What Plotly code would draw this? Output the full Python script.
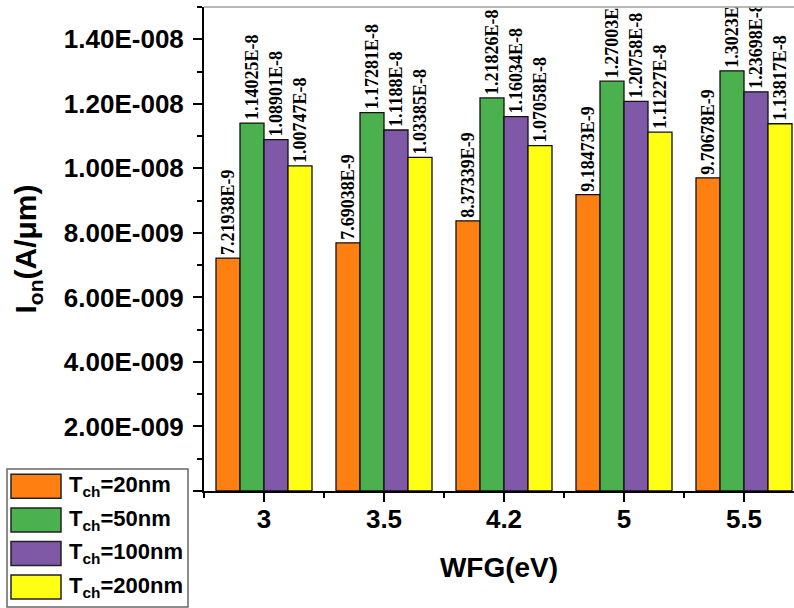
import plotly.graph_objects as go

# ---------------- data ----------------
CATEGORIES = ["3", "3.5", "4.2", "5", "5.5"]          # WFG (eV)
SERIES_NAMES = ["T<sub>ch</sub>=20nm", "T<sub>ch</sub>=50nm",
                "T<sub>ch</sub>=100nm", "T<sub>ch</sub>=200nm"]
T20 = [7.21938e-9, 7.69038e-9, 8.37339e-9, 9.18473e-9, 9.70678e-9]
T50 = [1.14025e-8, 1.17281e-8, 1.21826e-8, 1.27003e-8, 1.3023e-8]
T100 = [1.08901e-8, 1.1188e-8, 1.16034e-8, 1.20758e-8, 1.23698e-8]
T200 = [1.00747e-8, 1.03385e-8, 1.07058e-8, 1.11227e-8, 1.13817e-8]
Y_TICK_VALS = [0, 2e-9, 4e-9, 6e-9, 8e-9, 1.0e-8, 1.2e-8, 1.4e-8]
Y_TICK_LABELS = ["", "2.00E-009", "4.00E-009", "6.00E-009", "8.00E-009",
                 "1.00E-008", "1.20E-008", "1.40E-008"]
Y_MINOR_VALS = [1e-9, 3e-9, 5e-9, 7e-9, 9e-9, 1.1e-8, 1.3e-8, 1.5e-8]

# ---------------- style ----------------
COLORS = ["#FF8010", "#4BB04E", "#8058A8", "#FFFF14"]
W, H = 794, 608
L, T, B = 204, 7, 117
PW, PH = W - L, H - T - B

SANS = "Liberation Sans"
SERIF = "Liberation Serif"


def lab(v):
    s = "%.6g" % v
    m, e = s.split("e")
    return "%sE%d" % (m, int(e))


def px(xp):
    return (xp - L) / PW


def py(yp):
    return (T + PH - yp) / PH


xpos = list(range(len(CATEGORIES)))
fig = go.Figure()
for name, vals, col in zip(SERIES_NAMES, [T20, T50, T100, T200], COLORS):
    fig.add_trace(go.Bar(
        x=xpos, y=vals, name=name, showlegend=False,
        marker=dict(color=col, line=dict(color="#111111", width=1.3)),
        text=[lab(v) for v in vals], textposition="outside", textangle=-90,
        textfont=dict(family=SERIF, size=18, color="black", weight="bold"),
        constraintext="none", cliponaxis=True,
    ))

fig.update_layout(
    width=W, height=H, autosize=False,
    margin=dict(l=L, r=0, t=T, b=B, pad=0),
    paper_bgcolor="white", plot_bgcolor="white",
    barmode="group", bargap=0.2, bargroupgap=0.0,
    font=dict(family=SANS, color="black"),
    xaxis=dict(
        range=[-0.5, -0.5 + PW / 120.0], tickmode="array", tickvals=xpos,
        ticktext=CATEGORIES, showgrid=False, zeroline=False,
        showline=True, linecolor="black", linewidth=2,
        ticks="outside", ticklen=9, tickwidth=2, tickcolor="black",
        tickfont=dict(family=SANS, size=26, weight="bold"),
        ticklabelstandoff=-5,
        minor=dict(tickmode="array", tickvals=[-0.5, 0.5, 1.5, 2.5, 3.5],
                   ticks="outside", ticklen=5, tickwidth=2, tickcolor="black"),
        title=dict(text="WFG(eV)", font=dict(family=SANS, size=28, weight="bold"),
                   standoff=24),
    ),
    yaxis=dict(
        range=[0, 1.5e-8], tickmode="array", tickvals=Y_TICK_VALS,
        ticktext=Y_TICK_LABELS, showgrid=False, zeroline=False,
        showline=True, linecolor="black", linewidth=2,
        ticks="outside", ticklen=9, tickwidth=2, tickcolor="black",
        tickfont=dict(family=SANS, size=26, weight="bold"),
        ticklabelstandoff=4,
        minor=dict(tickmode="array", tickvals=Y_MINOR_VALS,
                   ticks="outside", ticklen=5, tickwidth=2, tickcolor="black"),
        title=dict(text="I<sub>on</sub>(A/\u03bcm)",
                   font=dict(family=SANS, size=30, weight="bold"), standoff=18),
    ),
)

# top frame line (grey)
fig.add_shape(type="line", xref="paper", yref="paper", x0=0, x1=1, y0=1, y1=1,
              line=dict(color="#A0A0A0", width=1.5), layer="above")

# custom legend (large swatches, as in the reference)
fig.add_shape(type="rect", xref="paper", yref="paper",
              x0=px(7), x1=px(188), y0=py(469), y1=py(607),
              line=dict(color="#666666", width=1.5), fillcolor="white", layer="above")
for i, (name, col) in enumerate(zip(SERIES_NAMES, COLORS)):
    cy = 486.3 + i * 33.6
    fig.add_shape(type="rect", xref="paper", yref="paper",
                  x0=px(11), x1=px(61), y0=py(cy - 12), y1=py(cy + 12),
                  line=dict(color="#222222", width=1.5), fillcolor=col, layer="above")
    fig.add_annotation(xref="paper", yref="paper", x=px(67), y=py(cy),
                       xanchor="left", yanchor="middle", showarrow=False,
                       text=name, font=dict(family=SANS, size=22, weight="bold",
                                            color="black"))

fig.write_html("out.html", config={"displayModeBar": False},
               post_script="document.body.style.margin='0';document.body.style.padding='0';")
